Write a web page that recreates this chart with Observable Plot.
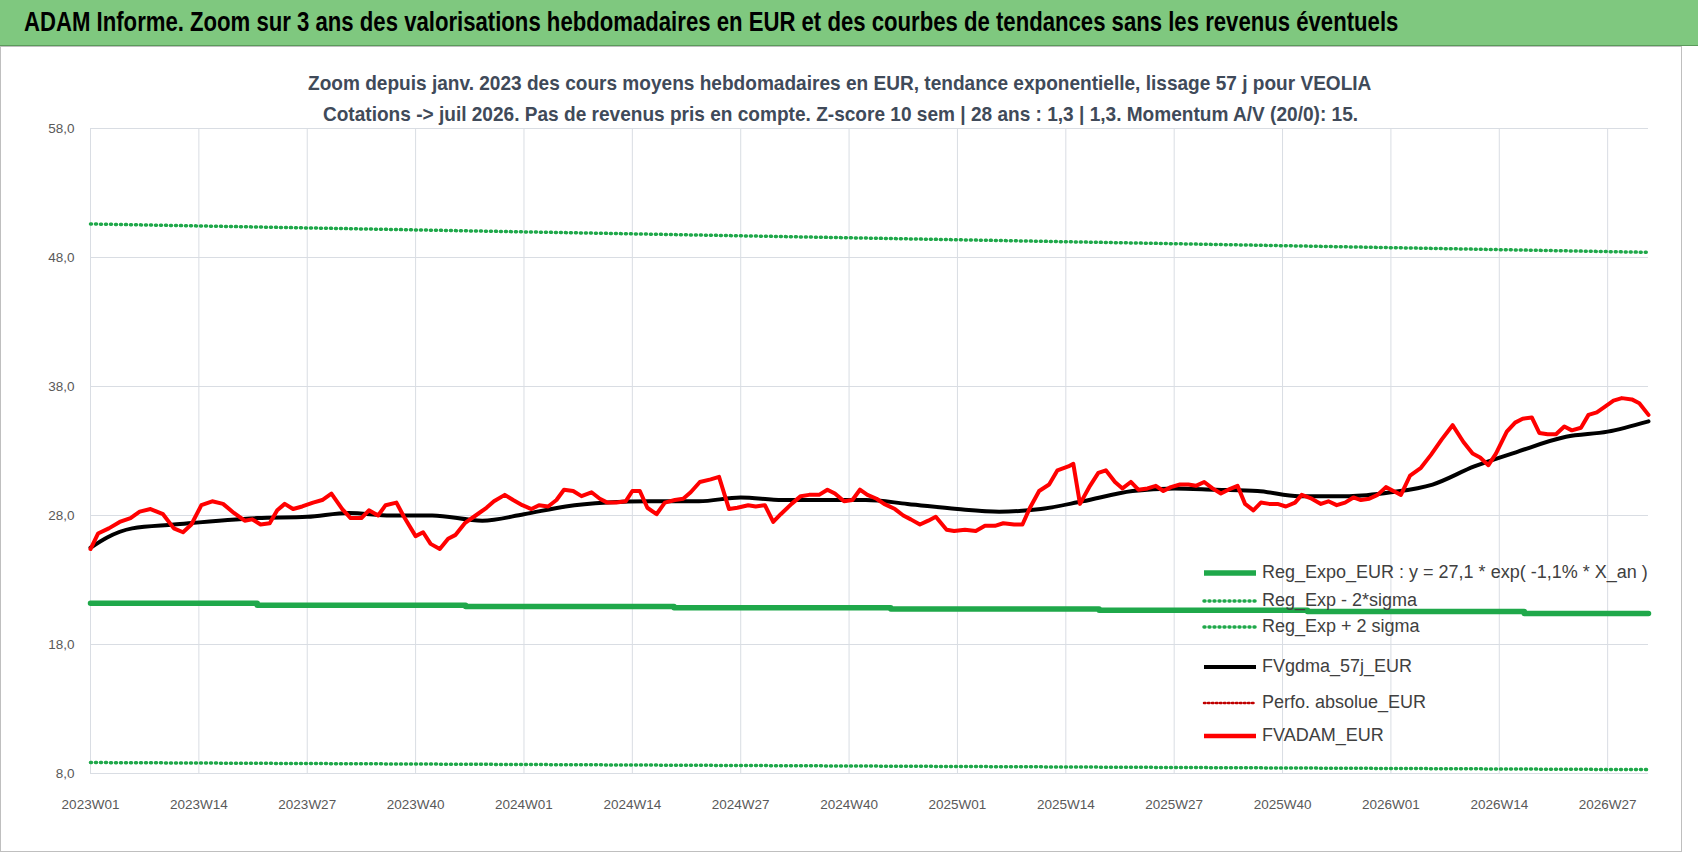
<!DOCTYPE html>
<html><head><meta charset="utf-8">
<script src="https://cdn.jsdelivr.net/npm/d3@7"></script>
<script src="https://cdn.jsdelivr.net/npm/@observablehq/plot@0.6"></script>
<style>
body{margin:0;background:#fff;font-family:"Liberation Sans",sans-serif;}
#title{position:absolute;left:0;top:0;width:1698px;height:45px;background:#7fc87f;border-bottom:1px solid #5a9a5a;}
#title span{position:absolute;left:24px;top:7px;font-size:27px;font-weight:bold;color:#000;white-space:nowrap;transform:scaleX(0.82);transform-origin:left top;}
#box{position:absolute;left:0;top:46px;width:1680px;height:804px;border:1px solid #bfbfbf;}
.sub{position:absolute;left:0;width:1680px;text-align:center;font-size:20.5px;font-weight:bold;color:#404a59;white-space:nowrap;}
.sub span{display:inline-block;transform:scaleX(0.93);}
#chart{position:absolute;left:0;top:49px;}
#legend{position:absolute;left:1202px;top:560px;font-size:18px;color:#404040;}
.row{position:relative;}
.row svg{position:absolute;left:0;top:0;}
.row span{position:absolute;left:60px;top:2px;white-space:nowrap;}
</style></head><body>
<div id="title"><span>ADAM Informe. Zoom sur 3 ans des valorisations hebdomadaires en EUR et des courbes de tendances sans les revenus éventuels</span></div>
<div id="box"></div>
<div class="sub" style="top:71px"><span>Zoom depuis janv. 2023 des cours moyens hebdomadaires en EUR, tendance exponentielle, lissage 57 j pour VEOLIA</span></div>
<div class="sub" style="top:102px"><span>Cotations -&gt; juil 2026. Pas de revenus pris en compte. Z-score 10 sem | 28 ans : 1,3 | 1,3. Momentum A/V (20/0): 15.</span></div>
<div id="chart"></div>
<div id="legend"></div>
<script>
const tickLabels = ["2023W01","2023W14","2023W27","2023W40","2024W01","2024W14","2024W27","2024W40","2025W01","2025W14","2025W27","2025W40","2026W01","2026W14","2026W27"];
const yTicks = [8,18,28,38,48,58];
// weekly average price (FVADAM_EUR): week index since 2023W01, value
const adamWeek = [0,0.9,2.2,3.5,4.8,5.9,7.2,8.7,10.0,11.1,12.1,13.3,14.6,15.9,17.2,18.5,19.4,20.4,21.5,22.4,23.3,24.3,25.4,26.7,27.8,28.9,30.2,31.2,32.5,33.4,34.5,35.4,36.7,37.6,39.0,39.9,40.8,41.9,42.9,43.8,44.9,46.2,47.5,48.4,49.7,50.7,51.8,52.9,53.8,54.9,55.9,56.8,57.9,58.9,60.1,61.1,62.0,63.1,64.2,65.0,65.9,66.8,67.9,68.9,70.1,71.1,72.0,73.1,74.4,75.4,76.6,77.6,78.9,79.8,80.9,81.9,82.8,84.1,85.2,86.2,87.4,88.4,89.3,90.4,91.4,92.3,93.2,94.3,95.2,96.5,97.5,98.4,99.5,100.5,101.4,102.7,103.6,104.9,106.2,107.3,108.5,109.5,110.8,111.8,112.7,113.8,115.0,116.0,117.3,117.9,118.7,119.9,120.9,121.8,122.9,123.8,124.8,125.7,126.8,127.8,128.7,129.6,130.7,131.7,132.6,133.6,134.6,135.6,136.5,137.6,138.5,139.5,140.4,141.4,142.4,143.4,144.5,145.3,146.5,147.6,148.5,149.5,150.5,151.5,152.4,153.4,154.4,155.4,156.3,157.2,158.3,159.6,160.8,162.1,163.4,164.7,165.8,166.7,167.7,168.6,169.9,170.9,171.8,172.9,173.8,174.8,175.8,176.8,177.7,178.8,179.7,180.7,181.6,182.7,183.7,184.9,185.8,186.9];
const adam = [25.4,26.6,27.0,27.5,27.8,28.3,28.5,28.1,27.0,26.7,27.3,28.8,29.1,28.9,28.2,27.6,27.7,27.3,27.4,28.4,28.9,28.5,28.7,29.0,29.2,29.7,28.5,27.8,27.8,28.4,28.0,28.8,29.0,27.9,26.4,26.7,25.8,25.4,26.2,26.5,27.4,28.0,28.6,29.1,29.6,29.2,28.8,28.5,28.8,28.7,29.2,30.0,29.9,29.5,29.8,29.3,29.0,29.0,29.1,29.9,29.9,28.6,28.1,29.0,29.2,29.3,29.8,30.6,30.8,31.0,28.5,28.6,28.8,28.7,28.8,27.5,28.1,28.9,29.5,29.6,29.6,30.0,29.7,29.1,29.2,30.0,29.6,29.3,28.9,28.5,28.0,27.7,27.3,27.6,27.9,26.9,26.8,26.9,26.8,27.2,27.2,27.4,27.3,27.3,28.6,29.9,30.4,31.5,31.8,32.0,28.9,30.3,31.3,31.5,30.6,30.1,30.6,30.0,30.1,30.3,29.9,30.2,30.4,30.4,30.3,30.6,30.1,29.7,30.0,30.3,28.9,28.4,29.0,28.9,28.9,28.7,29.0,29.6,29.3,28.9,29.1,28.8,29.0,29.4,29.2,29.3,29.6,30.2,29.9,29.6,31.1,31.7,32.7,33.9,35.0,33.7,32.8,32.5,31.9,32.8,34.5,35.2,35.5,35.6,34.4,34.3,34.3,34.9,34.6,34.8,35.8,36.0,36.4,36.9,37.1,37.0,36.7,35.8];
// 57-day smoothed (FVgdma_57j_EUR): week index, value
const gdmaWeek = [0,2,5,10,20,26,31,36,41,47,52,57,62,67,73,78,83,88,93,98,104,109,114,119,125,130,135,140,145,151,156,161,166,171,177,182,186.9];
const gdmaVal  = [25.5,26.3,27.0,27.3,27.8,27.9,28.2,28.0,28.0,27.6,28.1,28.7,29.0,29.1,29.1,29.4,29.2,29.2,29.2,28.9,28.5,28.3,28.5,29.1,29.9,30.1,30.0,29.9,29.5,29.5,29.8,30.4,31.8,32.9,34.1,34.5,35.3];
// Reg_Expo_EUR (stepped)
const regWeek = [0,20,45,70,96,121,146,172,186.9];
const regVal  = [21.2,21.05,20.95,20.85,20.75,20.65,20.55,20.4,20.4];
const upWeek = [0,186.9], upVal = [50.6,48.4];
const lowWeek = [0,186.9], lowVal = [8.85,8.3];

const END = 186.9;
const m = Math.min(adam.length, adamWeek.length);
const adamD = adamWeek.slice(0,m).map((w,i)=>({w,v:adam[i]}));
const z = (ws,vs)=>ws.map((w,i)=>({w,v:vs[i]}));
const tickW = tickLabels.map((_,i)=>i*13);

const chart = Plot.plot({
  width:1698, height:800,
  marginLeft:90, marginRight:50, marginTop:79, marginBottom:76,
  style:{fontFamily:"Liberation Sans, sans-serif", fontSize:"13.5px", color:"#595959", background:"transparent"},
  x:{domain:[0,END], ticks:tickW, tickFormat:(d)=>tickLabels[d/13], tickSize:0, tickPadding:26, label:null},
  y:{domain:[8,58], ticks:yTicks, tickFormat:d=>d.toFixed(1).replace(".",","), tickSize:0, tickPadding:16, label:null},
  marks:[
    Plot.gridX(tickW,{stroke:"#d9dde3",strokeOpacity:1}),
    Plot.gridY(yTicks,{stroke:"#d9dde3",strokeOpacity:1}),
    Plot.line(z(upWeek,upVal),{x:"w",y:"v",stroke:"#1fa84a",strokeWidth:3.5,strokeDasharray:"1 4",strokeLinecap:"round"}),
    Plot.line(z(lowWeek,lowVal),{x:"w",y:"v",stroke:"#1fa84a",strokeWidth:3.5,strokeDasharray:"1 4",strokeLinecap:"round"}),
    Plot.line(z(regWeek,regVal),{x:"w",y:"v",stroke:"#1fa84a",strokeWidth:5.5,curve:"step-after"}),
    Plot.line(z(gdmaWeek,gdmaVal),{x:"w",y:"v",stroke:"#000",strokeWidth:4,curve:"monotone-x"}),
    Plot.line(adamD,{x:"w",y:"v",stroke:"#ff0000",strokeWidth:4})
  ]
});
document.getElementById("chart").append(chart);

const leg = [
  ["Reg_Expo_EUR : y = 27,1 * exp( -1,1% *  X_an )","#1fa84a",5.5,null,28],
  ["Reg_Exp - 2*sigma","#1fa84a",3.5,"1 4",26],
  ["Reg_Exp + 2 sigma","#1fa84a",3.5,"1 4",40],
  ["FVgdma_57j_EUR","#000",4,null,36],
  ["Perfo. absolue_EUR","#c00000",2.5,"1.5 2.5",33],
  ["FVADAM_EUR","#ff0000",4.5,null,30]
];
const L = document.getElementById("legend");
for (const [t,c,w,d,h] of leg){
  const r=document.createElement("div"); r.className="row"; r.style.height=h+"px";
  r.innerHTML=`<svg width="56" height="24"><line x1="2" x2="54" y1="13" y2="13" stroke="${c}" stroke-width="${w}" ${d?`stroke-dasharray="${d}" stroke-linecap="round"`:""}/></svg><span>${t}</span>`;
  L.append(r);
}
</script>
</body></html>
